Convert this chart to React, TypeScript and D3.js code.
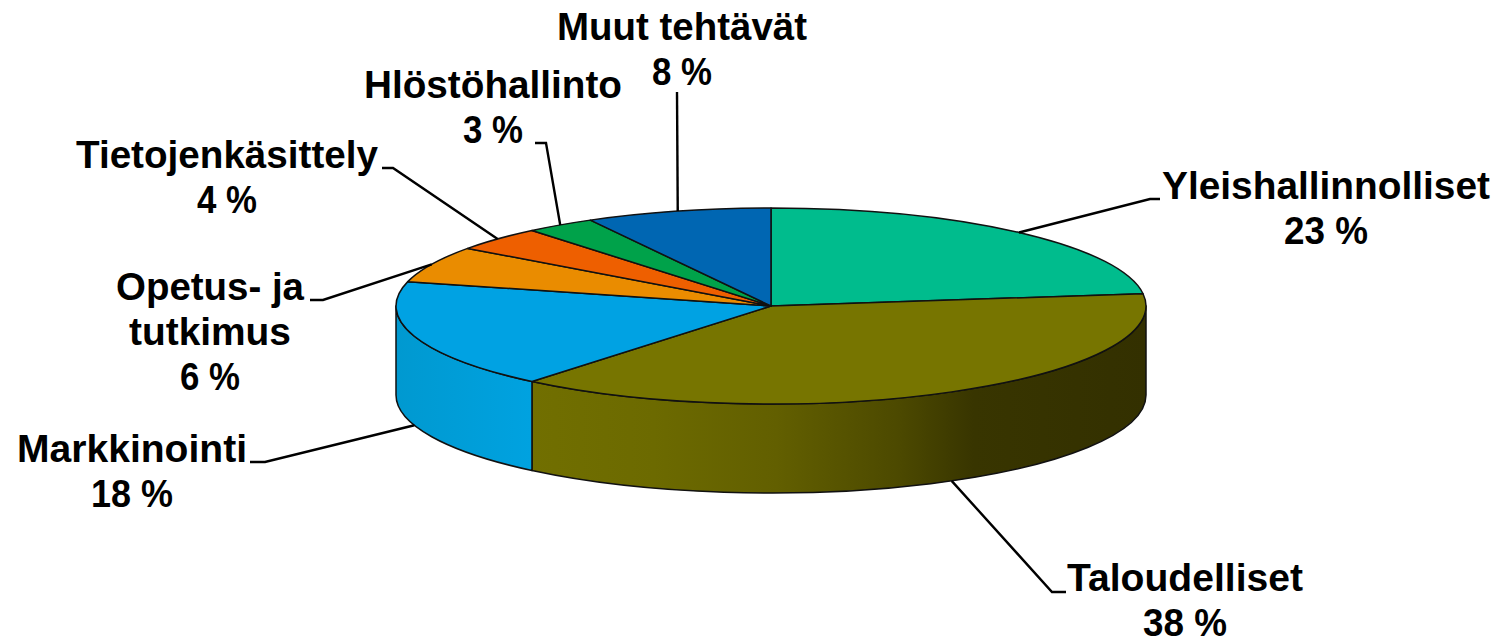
import React from "react";
import * as d3 from "d3";

const categories = ["Yleishallinnolliset", "Taloudelliset", "Markkinointi", "Opetus- ja tutkimus", "Tietojenkäsittely", "Hlöstöhallinto", "Muut tehtävät"];
const values = [23, 38, 18, 6, 4, 3, 8];
const topColors = ["#00bc8d", "#777500", "#00a2e3", "#ea8c00", "#ee5f00", "#00a24a", "#0066b2"];
const labelLines = [["Yleishallinnolliset"], ["Taloudelliset"], ["Markkinointi"], ["Opetus- ja", "tutkimus"], ["Tietojenkäsittely"], ["Hlöstöhallinto"], ["Muut tehtävät"]];

const W = 1503, H = 639;
const cx = 771, cy = 306, rx = 375, ry = 98, depth = 89;
const lineH = 45, fontSize = 38;

// label layout: centre x, first baseline, width of each name line, elbow point, elbow end
const labelX = [1326, 1185, 132, 210, 227, 493, 682];
const labelY = [199, 591, 462, 300, 168, 98, 40];
const nameWidths = [[328], [236], [230], [188, 162], [302], [258], [250]];
const pctWidths = [84, 84, 82, 60, 60, 60, 60];
const elbows: ([number, number] | null)[] = [[1150, 199], [1052, 592], [265, 462], [323, 300], [393, 168], [546, 143], [677, 92]];
const elbowEnds: ([number, number] | null)[] = [[1160, 199], [1066, 592], [250, 462], [310, 300], [382, 168], [535, 143], null];
const anchorOnBase = [false, true, true, false, false, false, false];

const pie = d3.pie<number>().sort(null).value((d) => d);
const arcs = pie(values);
const arcGen = d3.arc<d3.PieArcDatum<number>>().innerRadius(0).outerRadius(rx);

const px = (a: number) => cx + rx * Math.sin(a);
const py = (a: number) => cy - ry * Math.cos(a);

function wall(a0: number, a1: number) {
  const s = Math.max(a0, Math.PI / 2), e = Math.min(a1, (3 * Math.PI) / 2);
  if (e <= s) return null;
  return `M${px(s)},${py(s)}A${rx},${ry} 0 0 1 ${px(e)},${py(e)}L${px(e)},${py(e) + depth}A${rx},${ry} 0 0 0 ${px(s)},${py(s) + depth}Z`;
}

const stroke = "#111";

export default function App() {
  return (
    <svg width={W} height={H} viewBox={`0 0 ${W} ${H}`} style={{ position: "absolute", left: 0, top: 0, background: "#fff" }}>
      <defs>
        <linearGradient id="olive" gradientUnits="userSpaceOnUse" x1={531} x2={1146} y1={0} y2={0}>
          <stop offset="0" stopColor="#716f00" />
          <stop offset="0.2" stopColor="#6c6a00" />
          <stop offset="0.4" stopColor="#625f00" />
          <stop offset="0.6" stopColor="#4c4900" />
          <stop offset="0.72" stopColor="#383500" />
          <stop offset="1" stopColor="#333000" />
        </linearGradient>
        <linearGradient id="blue" gradientUnits="userSpaceOnUse" x1={396} x2={531} y1={0} y2={0}>
          <stop offset="0" stopColor="#0099d0" />
          <stop offset="1" stopColor="#00a2e0" />
        </linearGradient>
      </defs>
      {arcs.map((a, i) => {
        const d = wall(a.startAngle, a.endAngle);
        if (!d) return null;
        return <path key={i} d={d} fill={i === 1 ? "url(#olive)" : "url(#blue)"} stroke={stroke} strokeWidth={1.5} strokeLinejoin="round" />;
      })}
      <g transform={`translate(${cx},${cy}) scale(1,${ry / rx})`}>
        {arcs.map((a, i) => (
          <path key={i} d={arcGen(a) as string} fill={topColors[i]} stroke={stroke} strokeWidth={1.5} vectorEffect="non-scaling-stroke" strokeLinejoin="round" />
        ))}
      </g>
      {arcs.map((a, i) => {
        const mid = (a.startAngle + a.endAngle) / 2;
        const ax = px(mid), ay = py(mid) + (anchorOnBase[i] ? depth : 0);
        const pts: [number, number][] = [[ax, ay]];
        if (elbows[i]) pts.push(elbows[i] as [number, number]);
        if (elbowEnds[i]) pts.push(elbowEnds[i] as [number, number]);
        return <path key={i} d={d3.line()(pts) as string} fill="none" stroke="#000" strokeWidth={2.4} />;
      })}
      <g fontFamily="'Liberation Sans', Arial, sans-serif" fontWeight="bold" fontSize={fontSize} fill="#000" textAnchor="middle">
        {categories.map((c, i) => (
          <g key={c}>
            {labelLines[i].map((t, j) => (
              <text key={j} x={labelX[i]} y={labelY[i] + j * lineH} textLength={nameWidths[i][j]} lengthAdjust="spacingAndGlyphs">{t}</text>
            ))}
            <text x={labelX[i]} y={labelY[i] + labelLines[i].length * lineH} textLength={pctWidths[i]} lengthAdjust="spacingAndGlyphs">{`${values[i]} %`}</text>
          </g>
        ))}
      </g>
    </svg>
  );
}
